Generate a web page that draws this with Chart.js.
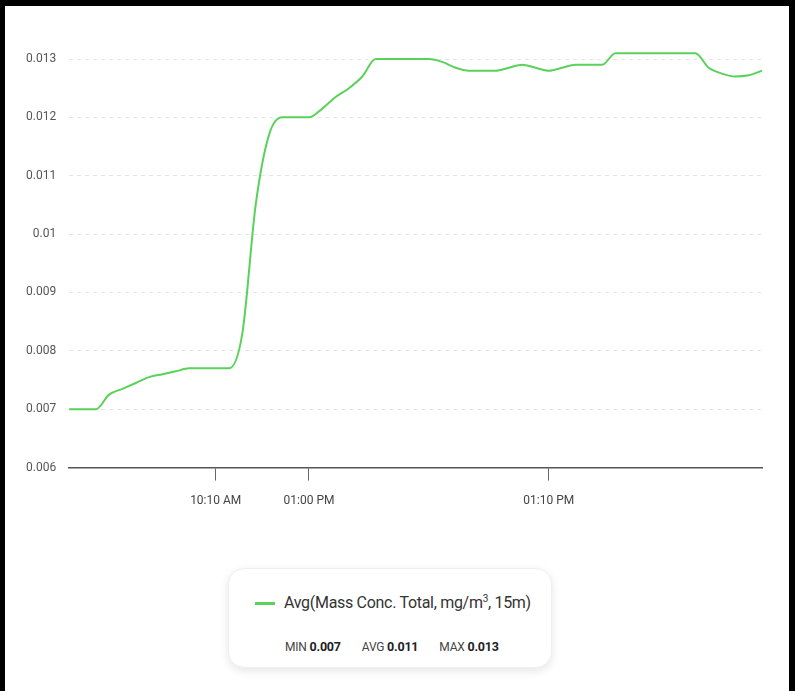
<!DOCTYPE html>
<html>
<head>
<meta charset="utf-8">
<title>Avg Mass Conc. Total</title>
<script src="https://cdn.jsdelivr.net/npm/chart.js@4.4.1/dist/chart.umd.min.js"></script>
<style>
	html, body {
		margin: 0;
		padding: 0;
		background: #fff;
		font-family: Roboto, "Noto Sans", sans-serif;
	}
	#frame {
		position: fixed;
		left: 0;
		top: 0;
		width: 795px;
		height: 691px;
		box-sizing: border-box;
		border-top: 6px solid #000;
		border-left: 5px solid #000;
		border-right: 6px solid #000;
		pointer-events: none;
	}
	#chartWrap {
		position: absolute;
		left: 0;
		top: 0;
		width: 795px;
		height: 525px;
	}
	#legendBox {
		position: absolute;
		left: 228px;
		top: 568px;
		width: 324px;
		height: 100px;
		box-sizing: border-box;
		border: 1px solid #efefef;
		border-radius: 16px;
		background: #fff;
		box-shadow: 0 3px 10px rgba(0, 0, 0, 0.1);
	}
	#legendTitle {
		position: absolute;
		left: 26px;
		top: 24px;
		font-size: 16px;
		color: #333;
		white-space: nowrap;
		letter-spacing: -0.3px;
	}
	#legendTitle .swatch {
		display: inline-block;
		width: 20px;
		height: 3px;
		background: #5ad25a;
		vertical-align: middle;
		margin-right: 9px;
		position: relative;
		top: -1px;
	}
	#legendTitle sup {
		font-size: 10px;
	}
	#legendStats {
		position: absolute;
		left: 56px;
		top: 70px;
		font-size: 12px;
		color: #444;
		white-space: nowrap;
		letter-spacing: -0.2px;
	}
	#legendStats span {
		margin-right: 21px;
	}
	#legendStats b {
		color: #222;
		font-size: 12.5px;
	}
</style>
</head>
<body>
<div id="chartWrap"><canvas id="massChart" width="795" height="525"></canvas></div>
<div id="legendBox">
	<div id="legendTitle"><span class="swatch"></span>Avg(Mass Conc. Total, mg/m<sup>3</sup>, 15m)</div>
	<div id="legendStats"></div>
</div>
<div id="frame"></div>
<script>
// readings, one every step along the x axis
const massValues = [
	0.0070, 0.0070, 0.0070, 0.00725, 0.00735, 0.00745, 0.00755, 0.0076, 0.00765, 0.0077,
	0.0077, 0.0077, 0.0077, 0.0083, 0.0105, 0.0117, 0.0120, 0.0120, 0.0120, 0.01215,
	0.01235, 0.0125, 0.0127, 0.0130, 0.0130, 0.0130, 0.0130, 0.0130, 0.01295, 0.01285,
	0.0128, 0.0128, 0.0128, 0.01285, 0.0129, 0.01285, 0.0128, 0.01285, 0.0129, 0.0129,
	0.0129, 0.0131, 0.0131, 0.0131, 0.0131, 0.0131, 0.0131, 0.0131, 0.01285, 0.01275,
	0.0127, 0.01272, 0.0128
];

// only a few points carry a time label
const timeTickIndex = [11, 18, 36];
const timeTickText = ["10:10 AM", "01:00 PM", "01:10 PM"];

const yTicks = [0.006, 0.007, 0.008, 0.009, 0.01, 0.011, 0.012, 0.013];

const seriesLabel = "Avg(Mass Conc. Total, mg/m³, 15m)";
const lineColor = "#5ad25a";

document.addEventListener("DOMContentLoaded", function () {
	const labels = massValues.map((v, i) => {
		const k = timeTickIndex.indexOf(i);
		return k >= 0 ? timeTickText[k] : "";
	});

	// stats under the legend
	const min = Math.min(...massValues);
	const max = Math.max(...massValues);
	const avg = massValues.reduce((a, b) => a + b, 0) / massValues.length;
	document.getElementById("legendStats").innerHTML =
		`<span>MIN <b>${min.toFixed(3)}</b></span>` +
		`<span>AVG <b>${avg.toFixed(3)}</b></span>` +
		`MAX <b>${max.toFixed(3)}</b>`;

	const tickFont = { family: "Roboto, 'Noto Sans', sans-serif", size: 12 };

	try {
		const ctx = document.getElementById("massChart").getContext("2d");
		new Chart(ctx, {
			type: "line",
			data: {
				labels: labels,
				datasets: [
					{
						label: seriesLabel,
						data: massValues,
						borderColor: lineColor,
						borderWidth: 2,
						pointRadius: 0,
						fill: false,
						cubicInterpolationMode: "monotone",
						clip: false,
					},
				],
			},
			options: {
				responsive: false,
				animation: false,
				devicePixelRatio: 1,
				layout: { padding: { left: 13, right: 33, top: 59, bottom: 4 } },
				plugins: {
					legend: { display: false },
					tooltip: { enabled: false },
				},
				scales: {
					x: {
						offset: false,
						grid: {
							drawOnChartArea: false,
							drawTicks: true,
							tickLength: 13,
							color: (c) => (c.tick && c.tick.label ? "#666" : "rgba(0,0,0,0)"),
							tickColor: (c) => (c.tick && c.tick.label ? "#666" : "rgba(0,0,0,0)"),
						},
						border: { display: true, color: "#555", width: 1.5 },
						ticks: {
							autoSkip: false,
							maxRotation: 0,
							padding: 13,
							color: "#444",
							font: tickFont,
							callback: function (value, index) {
								const l = labels[index];
								return l ? l : null;
							},
						},
					},
					y: {
						min: 0.006,
						max: 0.013,
						afterBuildTicks: (scale) => {
							scale.ticks = yTicks.map((v) => ({ value: v }));
						},
						grid: {
							drawTicks: false,
							color: "#e4e4e4",
							lineWidth: 1,
						},
						border: { display: false, dash: [4, 4] },
						ticks: {
							padding: 13,
							color: "#555",
							font: tickFont,
							callback: (v) => String(parseFloat(v.toFixed(3))),
						},
					},
				},
			},
		});
	} catch (err) {
		console.error("Chart failed:", err);
	}
});
</script>
</body>
</html>
